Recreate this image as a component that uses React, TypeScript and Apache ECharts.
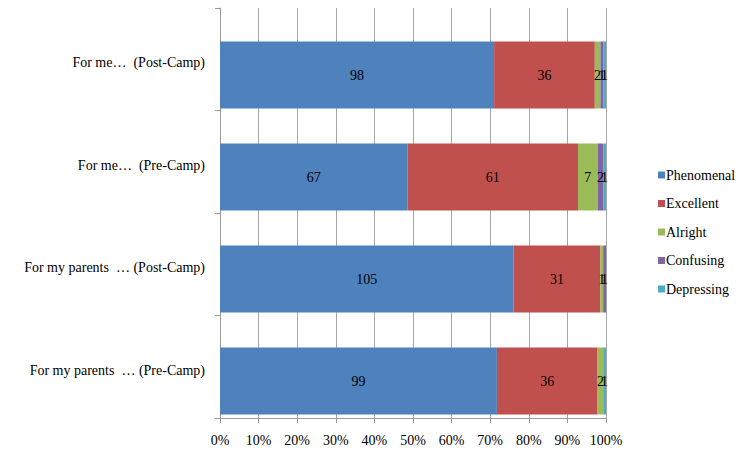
import React, { useEffect, useRef } from "react";
import * as echarts from "echarts";

const categories = [
  "For me…  (Post-Camp)",
  "For me…  (Pre-Camp)",
  "For my parents  … (Post-Camp)",
  "For my parents  … (Pre-Camp)",
];
const seriesNames = ["Phenomenal", "Excellent", "Alright", "Confusing", "Depressing"];
const phenomenal = [98, 67, 105, 99];
const excellent = [36, 61, 31, 36];
const alright = [2, 7, 1, 2];
const confusing = [1, 2, 1, 0];
const depressing = [1, 1, 0, 1];
const xTicks = [0, 10, 20, 30, 40, 50, 60, 70, 80, 90, 100];
const colors = ["#4F81BD", "#C0504D", "#9BBB59", "#8064A2", "#4BACC6"];

export default function App() {
  const ref = useRef<HTMLDivElement>(null);
  useEffect(() => {
    if (!ref.current) return;
    const chart = echarts.init(ref.current, undefined, { renderer: "svg" });
    const all = [phenomenal, excellent, alright, confusing, depressing];
    const totals = categories.map((_, i) => all.reduce((s, a) => s + a[i], 0));
    const font = "Liberation Serif";
    chart.setOption({
      animation: false,
      textStyle: { fontFamily: font },
      grid: [
        { left: 220, right: 132, top: 8, bottom: 37 },
        { left: 220, right: 132, top: 24, bottom: 23 },
      ],
      legend: {
        orient: "vertical",
        left: 653,
        top: 163,
        itemWidth: 7,
        itemHeight: 7,
        itemGap: 14.5,
        icon: "rect",
        textStyle: { fontFamily: font, fontSize: 14, color: "#000", padding: [0, 0, 0, -4] },
        data: seriesNames,
      },
      xAxis: [
        {
          type: "value",
          gridIndex: 0,
          min: xTicks[0],
          max: xTicks[xTicks.length - 1],
          interval: 10,
          axisLabel: { formatter: "{value}%", fontFamily: font, fontSize: 14, color: "#000", margin: 15 },
          axisLine: { show: true, lineStyle: { color: "#999" } },
          axisTick: { show: true, length: 5, lineStyle: { color: "#999" } },
          splitLine: { show: true, lineStyle: { color: "#A6A6A6" } },
        },
        {
          type: "value",
          gridIndex: 1,
          min: 0,
          max: 100,
          show: false,
          splitLine: { show: false },
        },
      ],
      yAxis: [
        {
          type: "category",
          gridIndex: 0,
          inverse: true,
          data: categories,
          axisLabel: {
            fontFamily: font,
            fontSize: 14,
            color: "#000",
            margin: 15,
            formatter: (v: string) => "{a|" + v + "}",
            rich: {
              a: { fontFamily: font, fontSize: 14, color: "#000", padding: [7, 0, 0, 0] },
            },
          },
          axisLine: { show: true, lineStyle: { color: "#999" } },
          axisTick: { show: true, length: 5, lineStyle: { color: "#999" } },
        },
        {
          type: "category",
          gridIndex: 1,
          inverse: true,
          data: categories,
          show: false,
        },
      ],
      series: all.map((arr, k) => ({
        name: seriesNames[k],
        type: "bar",
        stack: "total",
        xAxisIndex: 1,
        yAxisIndex: 1,
        barWidth: 67,
        itemStyle: { color: colors[k] },
        label: {
          show: true,
          position: "inside",
          color: "#000",
          fontFamily: font,
          fontSize: 14,
          formatter: (p: any) => (arr[p.dataIndex] ? String(arr[p.dataIndex]) : ""),
        },
        data: arr.map((v, i) => (v / totals[i]) * 100),
      })),
    });
    return () => chart.dispose();
  }, []);
  return <div ref={ref} style={{ width: 738, height: 455, position: "absolute", left: 0, top: 0 }} />;
}
